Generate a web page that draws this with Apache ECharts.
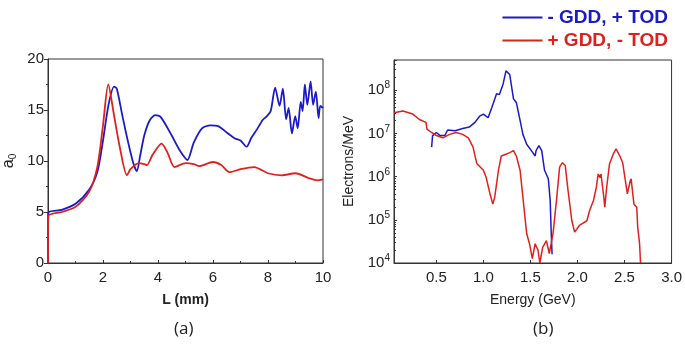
<!DOCTYPE html>
<html>
<head>
<meta charset="utf-8">
<script src="https://cdn.jsdelivr.net/npm/echarts@6/dist/echarts.min.js"></script>
<style>
  html, body { margin: 0; padding: 0; background: #fff; }
  #chart { width: 685px; height: 349px; }
</style>
</head>
<body>
<div id="chart"></div>
<script>
  // (a) a0 vs L (mm)
  const aBlueL = [0, 0.01, 0.5, 1.0, 1.5, 1.8, 2.0, 2.2, 2.4, 2.5, 2.7, 2.9, 3.1, 3.23, 3.35, 3.5, 3.7, 3.9, 4.1, 4.5, 4.8, 5.07, 5.3, 5.6, 5.9, 6.2, 6.5, 6.8, 7.0, 7.22, 7.4, 7.6, 7.8, 7.96, 8.1, 8.26, 8.42, 8.54, 8.66, 8.75, 8.87, 8.99, 9.08, 9.19, 9.26, 9.34, 9.43, 9.55, 9.64, 9.74, 9.84, 9.9, 10]
  const aBlueV = [0, 4.9, 5.2, 5.8, 7.2, 9.0, 12, 15.5, 17.3, 17.1, 14.5, 12, 9.8, 9.0, 10.5, 12.5, 14, 14.5, 14.3, 12.5, 11, 10.1, 11.8, 13.2, 13.5, 13.4, 12.8, 12.2, 12.0, 11.4, 12.3, 13.1, 14.0, 14.4, 14.9, 17.2, 15.4, 17.1, 14.1, 15.2, 12.7, 14.4, 13.2, 15.8, 14.9, 17.5, 15.5, 17.8, 15.5, 16.8, 14.2, 15.4, 15.2]
  const aRedL = [0, 0.01, 0.5, 1.0, 1.5, 1.8, 2.0, 2.19, 2.4, 2.6, 2.87, 3.0, 3.3, 3.5, 3.6, 3.8, 4.13, 4.35, 4.6, 5.0, 5.3, 5.5, 6.0, 6.3, 6.6, 7.0, 7.5, 8.0, 8.5, 9.0, 9.5, 9.8, 10]
  const aRedV = [0, 4.6, 5.0, 5.5, 7.0, 9.5, 13.5, 17.5, 14.5, 11.5, 8.6, 9.2, 9.8, 9.7, 9.6, 10.6, 11.7, 10.8, 9.4, 9.8, 9.7, 9.5, 9.9, 9.6, 8.9, 9.2, 9.4, 8.8, 8.6, 8.8, 8.3, 8.1, 8.2]

  // (b) spectra, Energy (GeV) vs Electrons/MeV
  const bBlueE = [0.45, 0.46, 0.5, 0.54, 0.59, 0.62, 0.7, 0.78, 0.85, 0.91, 0.96, 1.0, 1.05, 1.09, 1.14, 1.17, 1.21, 1.24, 1.26, 1.28, 1.32, 1.35, 1.39, 1.42, 1.46, 1.51, 1.55, 1.56, 1.59, 1.62, 1.65, 1.69, 1.71, 1.72, 1.73]
  const bBlueN = [4.8e6, 8.9e6, 1.05e7, 8.9e6, 8.9e6, 1.2e7, 1.15e7, 1.3e7, 1.4e7, 1.8e7, 2.5e7, 2.8e7, 2.3e7, 4.0e7, 8.3e7, 7.9e7, 1.4e8, 2.8e8, 3.0e8, 2.3e8, 6.3e7, 5.2e7, 2.0e7, 9.5e6, 5.6e6, 4.0e6, 3.0e6, 4.0e6, 5.2e6, 4.0e6, 1.4e6, 8.9e5, 2.8e5, 5.6e4, 1.6e4]
  const bRedE = [0.05, 0.145, 0.25, 0.32, 0.39, 0.40, 0.45, 0.5, 0.57, 0.64, 0.71, 0.78, 0.84, 0.89, 0.93, 1.0, 1.03, 1.07, 1.1, 1.12, 1.16, 1.19, 1.24, 1.28, 1.32, 1.35, 1.39, 1.42, 1.46, 1.49, 1.52, 1.55, 1.58, 1.6, 1.63, 1.67, 1.7, 1.72, 1.74, 1.78, 1.81, 1.84, 1.87, 1.9, 1.94, 1.97, 2.02, 2.1, 2.13, 2.17, 2.2, 2.22, 2.24, 2.25, 2.28, 2.29, 2.31, 2.34, 2.38, 2.41, 2.45, 2.48, 2.5, 2.53, 2.56, 2.57, 2.6, 2.63, 2.64, 2.66, 2.67]
  const bRedN = [3.0e7, 3.3e7, 2.8e7, 2.1e7, 1.8e7, 1.26e7, 1.05e7, 8.9e6, 7.9e6, 9.5e6, 1.05e7, 9.5e6, 7.9e6, 4.8e6, 2.0e6, 1.4e6, 9.5e5, 4.0e5, 2.3e5, 3.3e5, 1.4e6, 3.0e6, 3.3e6, 3.6e6, 4.0e6, 3.0e6, 1.4e6, 3.3e5, 4.8e4, 2.8e4, 1.26e4, 2.8e4, 2.0e4, 1.0e4, 2.3e4, 3.3e4, 1.66e4, 2.8e4, 4.8e4, 3.3e5, 1.66e6, 2.1e6, 1.8e6, 4.7e5, 9.5e4, 5.2e4, 7.4e4, 9.5e4, 1.66e5, 2.8e5, 5.6e5, 1.15e6, 9.5e5, 1.15e6, 3.3e5, 1.95e5, 5.6e5, 1.95e6, 3.3e6, 4.4e6, 3.0e6, 2.1e6, 2.3e6, 4.0e5, 7.9e5, 8.9e5, 2.3e5, 1.95e5, 6.8e4, 2.8e4, 1.0e4]

  const blueName = '- GDD, + TOD'
  const redName = '+ GDD, - TOD'
  const blue = '#1a1ac8'
  const red = '#e0201c'

  const zip = (xs, ys) => xs.map((x, i) => [x, ys[i]])

  const chart = echarts.init(document.getElementById('chart'), null, { renderer: 'canvas' })

  const FONT = '"Liberation Sans"'
  const axisColor = '#333'
  const labelFont = { color: '#222', fontSize: 15, fontFamily: FONT }

  const powLabel = (v) => {
    const l = Math.log10(v)
    const e = Math.round(l)
    if (Math.abs(l - e) > 1e-6) return ''
    return '10{sup|' + e + '}'
  }

  const option = {
    animation: false,
    textStyle: { fontFamily: FONT },
    legend: {
      orient: 'vertical',
      right: 12,
      top: 3,
      itemWidth: 40,
      itemHeight: 2,
      itemGap: 4,
      icon: 'rect',
      data: [
        { name: blueName, textStyle: { color: blue } },
        { name: redName, textStyle: { color: red } }
      ],
      textStyle: { fontSize: 19, fontWeight: 'bold', fontFamily: FONT }
    },
    grid: [
      { left: 45, top: 59, width: 278, height: 204, show: true, borderColor: axisColor, borderWidth: 1 },
      { left: 394, top: 60, width: 278, height: 203, show: true, borderColor: axisColor, borderWidth: 1 }
    ],
    xAxis: [
      {
        gridIndex: 0, type: 'value', min: 0, max: 10, interval: 2,
        name: 'L (mm)', nameLocation: 'middle', nameGap: 30,
        nameTextStyle: { fontSize: 14, fontWeight: 'bold', color: '#222', fontFamily: FONT },
        axisLine: { lineStyle: { color: axisColor } },
        axisTick: { inside: true, length: 3, lineStyle: { color: axisColor } },
        minorTick: { show: true, splitNumber: 2, length: 2, lineStyle: { color: axisColor } },
        axisLabel: Object.assign({ margin: 7 }, labelFont),
        splitLine: { show: false }
      },
      {
        gridIndex: 1, type: 'value', min: 0.05, max: 3.0, splitNumber: 6,
        name: 'Energy (GeV)', nameLocation: 'middle', nameGap: 30,
        nameTextStyle: { fontSize: 14, color: '#222', fontFamily: FONT },
        axisLine: { lineStyle: { color: axisColor } },
        axisTick: { inside: true, length: 3, lineStyle: { color: axisColor } },
        axisLabel: Object.assign({ margin: 7, showMinLabel: false, formatter: (v) => v.toFixed(1) }, labelFont),
        splitLine: { show: false }
      }
    ],
    yAxis: [
      {
        gridIndex: 0, type: 'value', min: 0, max: 20, interval: 5,
        name: 'a{sub|0}', nameLocation: 'middle', nameGap: 30, nameRotate: 90,
        nameTextStyle: {
          fontSize: 16, color: '#222', fontFamily: FONT,
          rich: { sub: { fontSize: 10, padding: [8, 0, 0, 0], color: '#222', fontFamily: FONT } }
        },
        axisLine: { show: true, lineStyle: { color: axisColor } },
        axisTick: { length: 4, lineStyle: { color: axisColor } },
        minorTick: { show: true, splitNumber: 2, length: 2, lineStyle: { color: axisColor } },
        axisLabel: Object.assign({ margin: 4 }, labelFont),
        splitLine: { show: false }
      },
      {
        gridIndex: 1, type: 'log', logBase: 10, min: 1e4, max: 5e8,
        name: 'Electrons/MeV', nameLocation: 'middle', nameGap: 38, nameRotate: 90,
        nameTextStyle: { fontSize: 14, color: '#222', fontFamily: FONT },
        axisLine: { show: true, lineStyle: { color: axisColor } },
        axisTick: { inside: true, length: 3, lineStyle: { color: axisColor } },
        minorTick: { show: true, splitNumber: 9, length: 2, lineStyle: { color: axisColor } },
        axisLabel: Object.assign({
          margin: 4,
          formatter: powLabel,
          rich: { sup: { fontSize: 10, padding: [0, 0, 9, 0], color: '#222', fontFamily: FONT } }
        }, labelFont),
        splitLine: { show: false }
      }
    ],
    series: [
      { name: blueName, type: 'line', xAxisIndex: 0, yAxisIndex: 0, data: zip(aBlueL, aBlueV), smooth: 0.25, symbol: 'none', lineStyle: { color: blue, width: 1.8 }, itemStyle: { color: blue } },
      { name: redName, type: 'line', xAxisIndex: 0, yAxisIndex: 0, data: zip(aRedL, aRedV), smooth: 0.25, symbol: 'none', lineStyle: { color: red, width: 1.8 }, itemStyle: { color: red } },
      { name: blueName, type: 'line', xAxisIndex: 1, yAxisIndex: 1, data: zip(bBlueE, bBlueN), symbol: 'none', lineStyle: { color: blue, width: 1.5 }, itemStyle: { color: blue } },
      { name: redName, type: 'line', xAxisIndex: 1, yAxisIndex: 1, data: zip(bRedE, bRedN), symbol: 'none', lineStyle: { color: red, width: 1.5 }, itemStyle: { color: red } }
    ],
    graphic: [
      { type: 'text', left: 174, top: 321, style: { text: '(a)', fontSize: 17, fill: '#222', fontFamily: '"Open Sans"' } },
      { type: 'text', left: 533, top: 321, style: { text: '(b)', fontSize: 17, fill: '#222', fontFamily: '"Open Sans"' } }
    ]
  }

  chart.setOption(option)
</script>
</body>
</html>
